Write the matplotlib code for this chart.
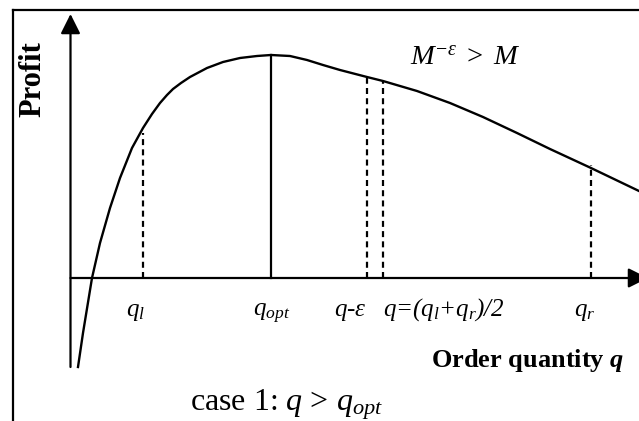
import matplotlib
matplotlib.use("Agg")
import matplotlib.pyplot as plt

# profit curve (q in pixel-like units, profit above the q axis)
curve_q = [78, 83, 92, 100, 110, 120, 132, 143, 152, 160, 167, 173, 181, 190, 207, 223,
           240, 257, 271, 290, 307, 323, 340, 367, 383, 417, 450, 483, 517, 550, 591, 639]
curve_profit = [-89, -55, 0, 35, 70, 100, 130, 150, 164, 175, 183, 189, 195, 201, 210, 216,
                220, 222, 223, 222, 218, 213, 208, 201, 197, 187, 175, 161, 145, 129, 110, 87]

# vertical markers
q_opt = 271
q_opt_profit = 223
dashed_q = [143, 367, 383, 591]
dashed_top = [145, 200, 197, 113]

# tick-like labels under the q axis
label_text = [r"$q_l$", r"$q_{opt}$", r"$q$-ε", r"$q$=($q_l$+$q_r$)/2", r"$q_r$"]
label_x = [135, 272, 350, 383, 585]
label_ha = ["center", "center", "center", "left", "center"]

plt.rcParams["font.family"] = ["Liberation Serif", "DejaVu Serif"]
plt.rcParams["mathtext.fontset"] = "custom"
plt.rcParams["mathtext.rm"] = "Liberation Serif"
plt.rcParams["mathtext.it"] = "Liberation Serif:italic"
plt.rcParams["mathtext.bf"] = "Liberation Serif:bold:italic"

fig = plt.figure(figsize=(6.39, 4.21), dpi=100)
ax = fig.add_axes([0, 0, 1, 1])
ax.set_xlim(0, 639)
ax.set_ylim(-143, 278)
ax.axis("off")

# outer frame (cut by the image edges)
ax.plot([13, 13], [-150, 268], color="k", lw=1.6)
ax.plot([13, 650], [268, 268], color="k", lw=1.6)

# axes with arrows
arrow = dict(arrowstyle="-|>,head_length=0.6,head_width=0.3", mutation_scale=20,
             color="k", lw=1.6, shrinkA=0, shrinkB=0)
ax.annotate("", xy=(70.5, 264), xytext=(70.5, -89), arrowprops=arrow)
ax.annotate("", xy=(648, 0), xytext=(70.5, 0), arrowprops=arrow, annotation_clip=False)

# profit curve
ax.plot(curve_q, curve_profit, color="k", lw=1.7, solid_joinstyle="round")

# q_opt and dashed markers
ax.plot([q_opt, q_opt], [0, q_opt_profit], color="k", lw=1.6)
for q, top in zip(dashed_q, dashed_top):
    ax.plot([q, q], [0, top], color="k", lw=1.6, ls=(0, (2.7, 1.9)))

for txt, x, ha in zip(label_text, label_x, label_ha):
    ax.text(x, -38, txt, ha=ha, va="baseline", fontsize=18, style="italic")

ax.text(33, 199, "Profit", rotation=90, ha="center", va="center",
        fontsize=22, fontweight="bold")
ax.text(410, 213, r"$M^{-\varepsilon}\ >\ M$", ha="left", va="baseline", fontsize=20.5)
ax.text(431, -89, r"Order quantity $\mathbf{q}$", ha="left", va="baseline",
        fontsize=19, fontweight="bold")
ax.text(190, -132, r"case 1: $q$ > $q_{opt}$", ha="left", va="baseline", fontsize=23)

fig.savefig("out.png", dpi=100)
